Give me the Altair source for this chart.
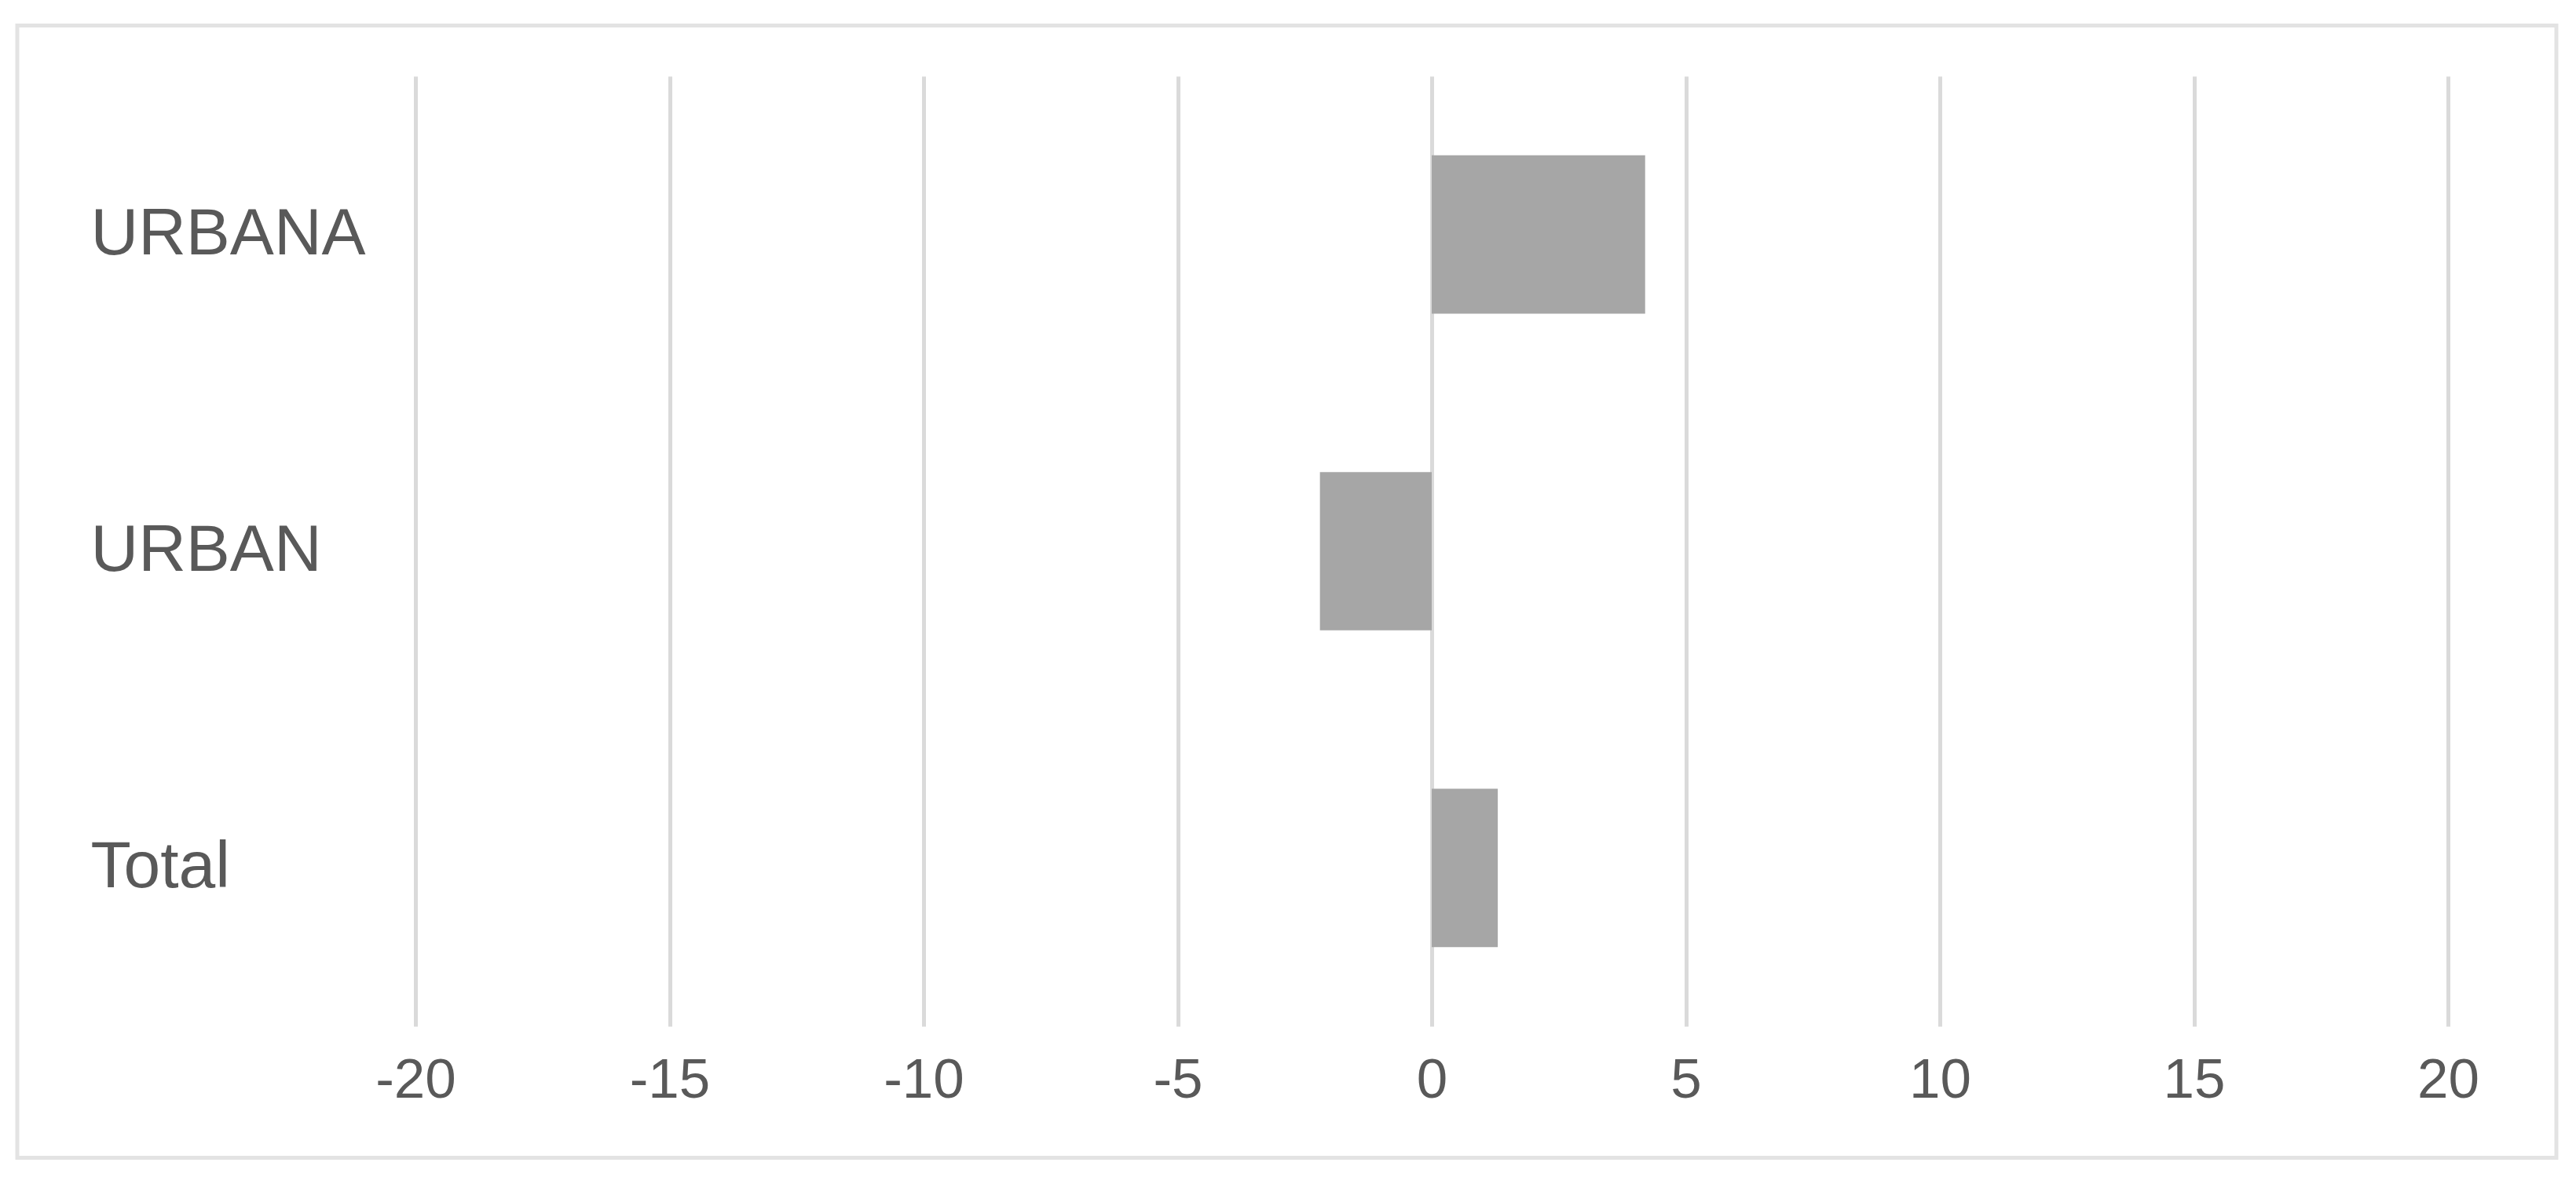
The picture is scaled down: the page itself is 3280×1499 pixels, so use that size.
import altair as alt
import pandas as pd

categories = ["URBANA", "URBAN", "Total"]
values = [4.2, -2.2, 1.3]
x_ticks = [-20, -15, -10, -5, 0, 5, 10, 15, 20]

df = pd.DataFrame({"cat": categories, "val": values})

FONT = "Liberation Sans"
TXT = "#595959"

bars = alt.Chart(df).mark_bar(color="#a6a6a6").encode(
    x=alt.X(
        "val:Q",
        scale=alt.Scale(domain=[-20, 20], nice=False, zero=False),
        axis=alt.Axis(
            values=x_ticks,
            title=None,
            grid=True,
            gridColor="#dadada",
            gridWidth=5,
            domain=False,
            ticks=False,
            tickSize=0,
            labelFont=FONT,
            labelFontSize=71,
            labelColor=TXT,
            labelBaseline="alphabetic",
            labelPadding=90,
            labelExpr="datum.value + ''",
            labelFlush=False,
            labelOverlap=False,
        ),
    ),
    y=alt.Y(
        "cat:N",
        sort=categories,
        scale=alt.Scale(paddingInner=0.5, paddingOuter=0.25),
        axis=alt.Axis(
            title=None,
            grid=False,
            domain=False,
            ticks=False,
            tickSize=0,
            labelFont=FONT,
            labelFontSize=84,
            labelColor=TXT,
            labelAlign="left",
            labelBaseline="middle",
            labelPadding=414,
            labelLimit=0,
        ),
    ),
)

frame = alt.Chart(pd.DataFrame({"a": [0]})).mark_rect(
    filled=False, stroke="#e3e3e3", strokeWidth=5, clip=False
).encode(
    x=alt.value(-507),
    x2=alt.value(2726),
    y=alt.value(-64.5),
    y2=alt.value(1377.5),
)

chart = (
    alt.layer(frame, bars)
    .properties(
        width=2588,
        height=1210,
        padding={"left": 521, "top": 89, "right": 150, "bottom": 180},
        autosize=alt.AutoSizeParams(type="none"),
        background="white",
    )
    .configure_view(stroke=None)
)

chart.save("out.html", embed_options={"renderer": "svg", "actions": False})
